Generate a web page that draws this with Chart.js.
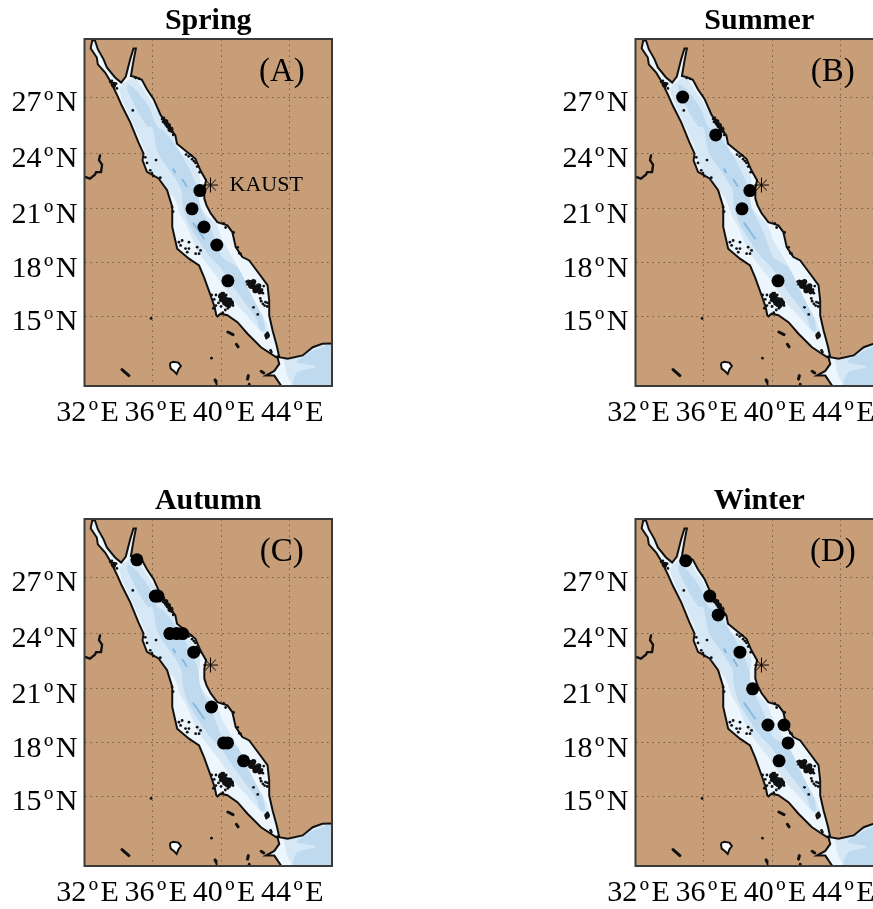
<!DOCTYPE html>
<html><head><meta charset="utf-8">
<style>
html,body{margin:0;padding:0;background:#fff;width:873px;height:909px;overflow:hidden;position:relative}
canvas{position:absolute}
</style>
<script src="https://cdn.jsdelivr.net/npm/chart.js@4"></script>
</head><body>
<script>
// ---- axis values ----
const lonTicks = [32, 36, 40, 44];
const latTicks = [15, 18, 21, 24, 27];
const lonRange = [32, 46.5];
const latRange = [11, 30];

// ---- season stations (lon / lat) ----
const springLon = [38.76, 38.3, 39.0, 39.75, 40.4];
const springLat = [22, 21, 20, 19, 17];
const summerLon = [34.76, 36.7, 38.7, 38.24, 40.35];
const summerLat = [27, 25, 22, 21, 17];
const autumnLon = [35.07, 36.15, 36.3, 37.0, 37.4, 37.75, 38.4, 39.44, 40.15, 40.38, 41.32];
const autumnLat = [27.9, 26, 26, 24, 24, 24, 23, 20, 18, 18, 17];
const winterLon = [34.94, 36.35, 36.84, 38.12, 38.86, 39.76, 40.7, 40.94, 40.41];
const winterLat = [27.85, 26, 25, 23, 21, 19, 19, 18, 17];
const kaustLon = [39.38];
const kaustLat = [22.3];

// ---- coastline of the sea ----
const seaLon = [32.46,32.62,32.78,33.11,33.31,33.79,34.15,34.42,34.68,34.87,35.01,34.87,34.72,34.97,35.36,35.66,36.05,36.44,36.84,37.32,37.42,38.01,38.5,38.79,39.12,39.02,39.02,39.15,39.38,39.78,40.37,40.66,40.86,41.25,41.65,42.24,42.72,42.82,42.82,43.02,43.26,43.41,43.9,44.78,45.37,45.94,46.6,46.6,43.6,43.12,42.63,43.12,43.41,43.29,43.22,42.34,41.55,40.96,40.37,39.98,39.79,39.72,39.63,39.39,39.0,38.71,38.12,37.43,37.14,37.14,36.84,36.34,35.66,35.4,35.46,35.16,34.68,34.19,33.93,33.56,33.21,32.78,32.72,32.36,32.46];
const seaLat = [29.95,29.91,29.48,28.97,28.54,28.02,27.76,28.07,28.97,29.52,29.52,28.88,28.1,28.05,27.9,27.41,26.89,26.1,25.51,24.98,24.53,24.09,23.72,23.1,22.56,22.11,21.56,21.19,20.77,20.27,20.09,19.72,18.88,18.33,18.14,17.38,16.75,15.89,15.05,14.18,13.33,12.66,12.57,12.76,13.23,13.43,13.44,10.9,10.9,11.6,11.6,11.87,12.27,12.7,12.66,13.23,14.0,14.66,15.05,15.14,14.99,15.05,15.5,16.17,17.2,17.86,18.24,18.79,20.0,21.1,22.02,22.66,23.02,23.64,24.0,24.6,25.67,26.54,27.06,27.76,28.28,28.7,29.05,29.52,29.95];

// ---- depth bands ----
const shelfLon = [34.22,34.91,35.56,36.32,37.15,37.62,38.5,38.79,38.68,38.79,39.15,39.68,40.09,40.68,41.32,41.91,42.5,42.79,42.5,41.62,40.74,39.79,39.26,38.62,37.91,37.62,37.32,36.6,35.87,35.52,35.14,34.42,34.04,34.22];
const shelfLat = [27.68,28.0,27.25,26.2,25.0,24.07,23.35,22.56,21.74,21.19,20.64,20.2,19.25,18.31,17.18,15.88,14.93,14.01,14.01,14.93,15.88,17.18,17.85,18.7,20.2,20.64,21.46,22.4,23.1,24.18,25.0,26.42,27.36,27.68];
const basinLon = [34.56,35.03,35.74,36.26,36.62,37.62,38.62,38.79,39.26,39.68,40.09,40.97,41.56,42.03,42.44,42.56,42.32,42.03,41.44,40.74,39.97,39.38,38.68,38.09,37.79,37.62,36.32,35.97,35.68,34.97,34.5,34.56];
const basinLat = [27.68,27.36,26.52,25.45,25.23,24.02,22.18,21.08,20.2,19.25,18.31,17.75,16.62,15.72,14.93,14.2,14.2,14.93,15.72,16.62,17.75,18.31,19.25,20.2,21.08,22.18,24.02,25.4,25.45,26.52,27.42,27.68];
const deepLon = [37.2,37.3,null,37.74,37.97,null,38.38,39.0];
const deepLat = [23.15,23.0,null,22.6,22.25,null,20.2,19.36];
const adenShelfLon = [43.68,44.68,45.38,46.56,46.56,44.21,43.8,43.68];
const adenShelfLat = [12.57,12.68,13.2,13.45,10.9,10.9,11.77,12.57];
const adenDeepLon = [44.56,45.44,46.56,46.56,44.26,44.44,45.56,44.44,44.56];
const adenDeepLat = [12.55,13.04,13.33,10.9,10.9,11.77,12.1,12.35,12.55];

// ---- reefs ----
const reefLon = [39.45,39.6,39.7,39.85,39.9,39.95,40.0,40.05,40.1,40.15,40.2,40.25,40.3,40.35,40.4,40.45,40.5,40.55,40.6,40.7,40.15,40.3,39.7,39.55,40.4,40.25,40.1,
 41.5,41.6,41.55,41.7,41.7,41.85,41.85,41.95,42.0,42.1,42.1,42.25,42.25,42.4,42.45,41.95,42.5,
 42.35,42.45,42.55,42.6,42.7,42.72,42.3,42.15,41.9,41.15,40.74,40.15,42.72,42.7,42.66,42.9,42.95,
 37.53,37.72,38.12,37.63,37.92,38.12,38.6,38.8,38.51,38.71,38.02,40.27,40.97,41.06,
 37.95,38.1,38.25,38.4,38.5,38.3,38.6,38.75,36.19,35.95,36.44,35.56,35.66,36.03,35.85,37.13,37.19,
 36.55,36.6,36.7,36.75,36.85,36.9,37.0,37.05,37.15,36.65,37.2,36.95,
 33.5,33.65,33.75,33.9,33.6,33.85,35.2,35.0,34.83,35.9,39.44,41.65];
const reefLat = [16.2,15.95,16.2,15.75,16.1,15.9,15.55,16.3,15.95,15.7,16.1,15.85,15.6,16.0,15.75,15.9,15.55,15.7,15.85,15.6,16.3,16.2,15.6,15.45,15.45,15.35,15.2,
 16.95,17.0,16.8,16.9,16.7,16.85,16.6,16.7,16.5,16.6,16.4,16.5,16.3,16.5,16.3,16.95,16.7,
 15.85,15.7,15.6,15.8,15.55,15.75,16.0,15.1,15.5,18.5,19.7,20.2,14.05,13.9,13.75,13.05,12.95,
 19.16,19.25,19.16,18.98,18.8,18.8,18.88,18.7,18.52,18.52,18.6,19.97,18.87,18.55,
 23.95,23.85,23.9,23.6,23.5,23.7,23.3,23.0,23.65,22.95,22.7,23.8,23.5,22.8,23.1,21.1,20.85,
 25.85,25.7,25.75,25.55,25.6,25.4,25.4,25.2,25.15,25.9,25.0,25.25,
 27.8,27.65,27.55,27.45,27.85,27.7,27.95,28.0,26.3,14.87,12.6,11.1];
const reefCoreLon = [41.7,41.85,42.0,42.15,42.3,41.75,42.0,41.9,42.2,40.05,40.2,40.3,40.45,40.15,40.0,40.5,40.6,36.75,36.9,37.05,42.7,33.7];
const reefCoreLat = [16.88,16.75,16.62,16.5,16.42,16.7,16.45,16.95,16.7,15.95,15.85,15.72,15.65,16.1,16.15,15.9,15.75,25.7,25.5,25.3,13.9,27.65];

// ---- inland features ----
const islandLon = [34.2,34.6,null,40.4,40.7,null,40.9,41.0,null,39.65,39.7,null,41.6,41.55,null,42.35,42.5];
const islandLat = [11.95,11.6,null,14.1,13.95,null,13.4,13.25,null,11.35,11.25,null,11.6,11.4,null,11.85,11.75];
const nasserLon = [32.03,32.32,32.62,32.68,32.97,33.03,32.85,32.91];
const nasserLat = [22.75,22.65,22.87,23.0,23.0,23.4,23.65,23.9];
const tanaLon = [37.0,37.2,37.5,37.65,37.5,37.4,37.25,37.05,37.0];
const tanaLat = [12.3,12.4,12.35,12.15,11.95,11.7,11.85,12.0,12.3];

// ---- panel text ----
const panelTitles = ['Spring','Summer','Autumn','Winter'];
const panelLetters = ['(A)','(B)','(C)','(D)'];
const panelLons = [springLon, summerLon, autumnLon, winterLon];
const panelLats = [springLat, summerLat, autumnLat, winterLat];
const letterLon = 43.56, letterLat = 28.3;
const kaustTextLon = 40.5, kaustTextLat = 22.28;

const SERIF = '"Liberation Serif","Times New Roman",serif';
const LAND = '#C89E78', WATER = '#EEF6FD', SHELF = '#D6E7F5', BASIN = '#BFD9EE', DEEP = '#86BADF';

const rad = Math.PI / 180;
const merc = v => Math.log(Math.tan((45 + v / 2) * rad));
const unmerc = m => (2 * Math.atan(Math.exp(m)) / rad - 90);
class MercatorScale extends Chart.LinearScale {
  getPixelForValue(v) {
    if (v === null || v === undefined || isNaN(v)) return NaN;
    const a = merc(this.min), b = merc(this.max);
    return this.getPixelForDecimal((merc(v) - a) / (b - a));
  }
  getValueForPixel(p) {
    const a = merc(this.min), b = merc(this.max);
    return unmerc(a + this.getDecimalForPixel(p) * (b - a));
  }
}
MercatorScale.id = 'mercator';
MercatorScale.defaults = Chart.LinearScale.defaults;
Chart.register(MercatorScale);

const pts = (xs, ys) => xs.map((x, i) => ({x, y: ys[i]}));
function area(xs, ys, fill, order, line, tension) {
  return {data: pts(xs, ys), showLine: true, fill: 'shape', backgroundColor: fill, borderColor: line || fill,
    borderWidth: line ? 2 : 0, pointRadius: 0, tension: tension || 0, order, spanGaps: false};
}
function stroke(xs, ys, color, width, order) {
  return {data: pts(xs, ys), showLine: true, fill: false, borderColor: color, borderWidth: width,
    pointRadius: 0, tension: 0, order, spanGaps: false, borderCapStyle: 'round'};
}

function makePanel(idx, left, top) {
  const cv = document.createElement('canvas');
  cv.width = 416; cv.height = 455;
  cv.style.left = left + 'px'; cv.style.top = top + 'px';
  cv.style.width = '416px'; cv.style.height = '455px';
  document.body.appendChild(cv);
  const paper = {
    id: 'paper',
    beforeDraw(c) {
      const a = c.chartArea, g = c.ctx;
      g.save(); g.fillStyle = '#fff'; g.fillRect(0, 0, c.width, c.height);
      g.fillStyle = LAND; g.fillRect(a.left, a.top, a.right - a.left, a.bottom - a.top); g.restore();
    },
    afterDraw(c) {
      const a = c.chartArea, g = c.ctx, X = c.scales.x, Y = c.scales.y;
      g.save();
      g.strokeStyle = '#3a3a3a'; g.lineWidth = 2;
      g.strokeRect(a.left, a.top, a.right - a.left, a.bottom - a.top);
      g.fillStyle = '#000'; g.textBaseline = 'middle'; g.textAlign = 'center';
      g.font = '33px ' + SERIF;
      g.fillText(panelLetters[idx], X.getPixelForValue(letterLon), Y.getPixelForValue(letterLat));
      if (idx === 0) {
        g.textAlign = 'left'; g.font = '22px ' + SERIF;
        g.fillText('KAUST', X.getPixelForValue(kaustTextLon), Y.getPixelForValue(kaustTextLat));
      }
      g.restore();
    }
  };
  const gridOpts = {color: 'rgba(60,50,40,0.6)', lineWidth: 1, drawTicks: false};
  new Chart(cv, {
    type: 'scatter',
    plugins: [paper],
    data: {datasets: [
      {data: pts(kaustLon, kaustLat), pointStyle: 'star', pointRadius: 7.5, borderColor: '#000', pointBorderWidth: 1, backgroundColor: '#000', order: 0},
      {data: pts(panelLons[idx], panelLats[idx]), pointStyle: 'circle', pointRadius: 6.5, backgroundColor: '#000', borderColor: '#000', pointBorderWidth: 0, order: 1},
      {data: pts(reefLon, reefLat), pointStyle: 'circle', pointRadius: 1.4, backgroundColor: '#111', borderColor: '#111', pointBorderWidth: 0, order: 2},
      {data: pts(reefCoreLon, reefCoreLat), pointStyle: 'circle', pointRadius: 2.8, backgroundColor: '#111', borderColor: '#111', pointBorderWidth: 0, order: 2},
      stroke(islandLon, islandLat, '#111', 3, 3),
      stroke(nasserLon, nasserLat, '#111', 2.4, 3),
      area(tanaLon, tanaLat, '#FFFFFF', 3, '#111'),
      area(seaLon, seaLat, 'rgba(0,0,0,0)', 4, '#111'),
      stroke(deepLon, deepLat, DEEP, 2, 5),
      area(adenDeepLon, adenDeepLat, BASIN, 6, null, 0.3),
      area(basinLon, basinLat, BASIN, 6, null, 0.3),
      area(adenShelfLon, adenShelfLat, SHELF, 7),
      area(shelfLon, shelfLat, SHELF, 7, null, 0.3),
      area(seaLon, seaLat, WATER, 8)
    ]},
    options: {
      responsive: false, animation: false, devicePixelRatio: 1,
      layout: {padding: {left: 0, right: 84, top: 0, bottom: 0}},
      plugins: {
        legend: {display: false}, tooltip: {enabled: false},
        title: {display: true, fullSize: false, text: panelTitles[idx], color: '#000', padding: {top: 3, bottom: 0},
          font: {family: SERIF, size: 30, weight: 'bold', lineHeight: 1.2}}
      },
      scales: {
        x: {
          type: 'linear', min: lonRange[0], max: lonRange[1],
          afterBuildTicks(s) { s.ticks = lonTicks.map(v => ({value: v})); },
          afterFit(s) { s.height = 69; },
          grid: gridOpts, border: {display: false, dash: [1.5, 4]},
          ticks: {autoSkip: false, maxRotation: 0, minRotation: 0, color: '#000', padding: 9, labelOffset: 3,
            font: {family: SERIF, size: 30}, callback: v => v + '\u200A\u00BA\u200AE'}
        },
        y: {
          type: 'mercator', min: latRange[0], max: latRange[1],
          afterBuildTicks(s) { s.ticks = latTicks.map(v => ({value: v})); },
          afterFit(s) { s.width = 84.5; },
          grid: gridOpts, border: {display: false, dash: [1.5, 4]},
          ticks: {autoSkip: false, color: '#000', padding: 7, labelOffset: 6,
            font: {family: SERIF, size: 30}, callback: v => v + '\u200A\u00BA\u200AN'}
        }
      }
    }
  });
}
makePanel(0, 0, 0);
makePanel(1, 551, 0);
makePanel(2, 0, 480);
makePanel(3, 551, 480);
</script>
</body></html>
